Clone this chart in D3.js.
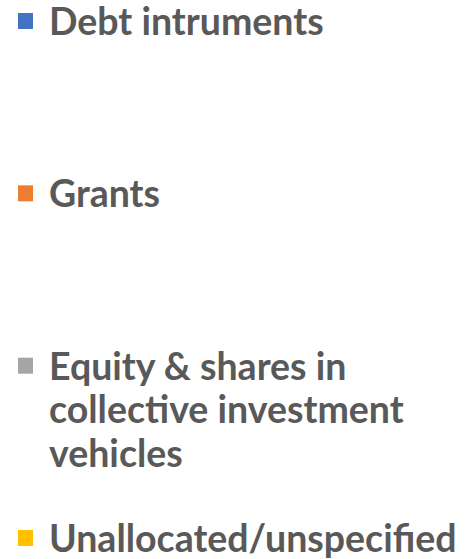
<!DOCTYPE html>
<html>
<head>
<meta charset="utf-8">
<script src="https://cdn.jsdelivr.net/npm/d3@7"></script>
<style>
  body { margin: 0; background: #fff; }
</style>
</head>
<body>
<div id="chart"></div>
<script>
const width = 470, height = 559;

// legend entries
const categories = ["Debt intruments", "Grants", "Equity & shares in collective investment vehicles", "Unallocated/unspecified"];
const labelLines = [["Debt intruments"], ["Grants"], ["Equity & shares in", "collective investment", "vehicles"], ["Unallocated/unspecified"]];
const colors = ["#4472C4", "#ED7D31", "#A5A5A5", "#FFC000"];

const svg = d3.select("#chart").append("svg")
    .attr("width", width)
    .attr("height", height)
    .style("font-family", "Lato, 'Open Sans', sans-serif");

// one row per category, baselines spread evenly down the page
const y = d3.scalePoint().domain(categories).range([35, 552]);
const color = d3.scaleOrdinal().domain(categories).range(colors);

const lineHeight = 43.5;

const item = svg.selectAll(".item")
    .data(categories)
    .enter().append("g")
    .attr("class", "item")
    .attr("transform", d => `translate(0, ${y(d)})`);

item.append("rect")
    .attr("x", 18)
    .attr("y", -22)
    .attr("width", 15)
    .attr("height", 16)
    .attr("fill", d => color(d));

item.append("text")
    .attr("x", 49)
    .attr("fill", "#595959")
    .style("font-size", "37.5px")
    .style("font-weight", "bold")
    .selectAll("tspan")
    .data((d, i) => labelLines[i])
    .enter().append("tspan")
    .attr("x", 49)
    .attr("dy", (d, i) => i === 0 ? 0 : lineHeight)
    .text(d => d);
</script>
</body>
</html>
